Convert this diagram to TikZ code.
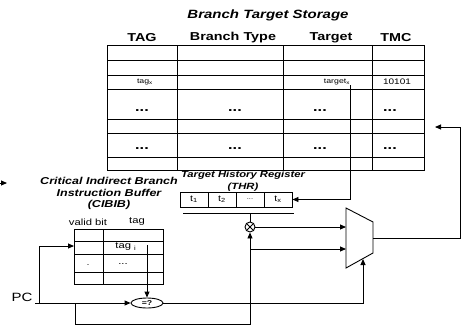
\documentclass[tikz,border=0pt]{standalone}
\usepackage{fontspec}
\setmainfont{Liberation Sans}
\usetikzlibrary{arrows.meta,shapes.geometric}
\newcommand{\wide}[1]{\scalebox{1.25}[1]{#1}}
\begin{document}
\begin{tikzpicture}[x=1pt,y=-1pt,line width=0.9pt,
  arr/.style={-{Triangle[length=6pt,width=5pt]}},
  txt/.style={inner sep=0pt},
  title/.style={txt,font=\bfseries\itshape\fontsize{12}{14}\selectfont},
  hdr/.style={txt,font=\bfseries\fontsize{11.5}{13}\selectfont},
  tiny/.style={txt,font=\fontsize{7}{8}\selectfont},
  mid/.style={txt,font=\fontsize{8}{9}\selectfont},
  lab/.style={txt,font=\fontsize{9}{10}\selectfont},
  dots/.style={txt,anchor=base,font=\bfseries\fontsize{13}{14}\selectfont},
  cell/.style={draw,minimum width=28pt,minimum height=15pt,inner sep=0pt,font=\fontsize{8.5}{9}\selectfont}]
\useasboundingbox (0,0) rectangle (467,327);

% Branch Target Storage table
\draw (107,45) rectangle (424,170);
\foreach \yy in {60,75,89,119,133,157} \draw (107,\yy) -- (424,\yy);
\foreach \xx in {177,283,372} \draw (\xx,45) -- (\xx,170);

\node[title] (bts) at (268,15) {\wide{Branch Target Storage}};
\node[hdr] (hTag) at (142,38) {\wide{TAG}};
\node[hdr] (hType) at (233,38) {\wide{Branch Type}};
\node[hdr] (hTarget) at (331,38) {\wide{Target}};
\node[hdr] (hTMC) at (396,38) {\wide{TMC}};

\node[tiny] (tagx) at (145,82) {\wide{tag\textsubscript{x}}};
\node[tiny] (targetx) at (337,82) {\wide{target\textsubscript{x}}};
\node[mid] (tmcv) at (397,82) {\wide{10101}};

\node[dots] (d11) at (142,111) {\wide{...}};
\node[dots] (d12) at (235,111) {\wide{...}};
\node[dots] (d13) at (320,111) {\wide{...}};
\node[dots] (d14) at (390,111) {\wide{...}};
\node[dots] (d21) at (142,149) {\wide{...}};
\node[dots] (d22) at (235,149) {\wide{...}};
\node[dots] (d23) at (320,149) {\wide{...}};
\node[dots] (d24) at (390,149) {\wide{...}};

% Target History Register
\node[txt,align=center,font=\bfseries\itshape\fontsize{9}{12}\selectfont] (thrt) at (243,181)
  {\wide{Target History Register}\\\wide{(THR)}};
\node[cell] (t1) at (194,199.5) {\wide{t\textsubscript{1}}};
\node[cell] (t2) at (222,199.5) {\wide{t\textsubscript{2}}};
\node[cell,font=\fontsize{6}{7}\selectfont] (t3) at (250,199.5) {\wide{...}};
\node[cell] (tx) at (278,199.5) {\wide{t\textsubscript{x}}};
\coordinate (ul1) at (183,213);
\coordinate (ul2) at (294,213);
\coordinate (ulm) at (250,213);
\draw (ul1) -- (ul2);

\node[circle,draw,minimum size=10pt,inner sep=0pt] (xo) at (250,227) {};
\draw (xo.north east) -- (xo.south west) (xo.north west) -- (xo.south east);
\draw (ulm) -- (xo.north);

% target connector
\coordinate (tgt) at (350,85);
\draw[arr] (tgt) |- (tx.east);

% Mux
\coordinate (m1) at (346,208);
\coordinate (m2) at (373,222);
\coordinate (m3) at (373,253);
\coordinate (m4) at (346,268);
\draw (m1) -- (m2) -- (m3) -- (m4) -- cycle;
\coordinate (mi1) at (346,227);
\coordinate (mi2) at (346,249);
\coordinate (msel) at (363,259);
\coordinate (mout) at (373,238);
\draw[arr] (xo.east) -- (mi1);
\coordinate (br) at (250,249);
\draw[arr] (br) -- (mi2);

% feedback
\coordinate (fb1) at (460,238);
\coordinate (fbt) at (460,127);
\coordinate (fbend) at (435,127);
\draw[arr] (mout) -- (fb1) -- (fbt) -- (fbend);

% CIBIB
\node[txt,align=center,font=\bfseries\itshape\fontsize{10}{11.5}\selectfont] (cibt) at (109,193.5)
  {\wide{Critical Indirect Branch}\\\wide{Instruction Buffer}\\\wide{(CIBIB)}};
\node[lab] (vb) at (88,222) {\wide{valid bit}};
\node[lab] (tg) at (137,222) {\wide{tag}};
\draw (74,229) rectangle (163,284);
\foreach \yy in {241,254,272} \draw (74,\yy) -- (163,\yy);
\draw (103,229) -- (103,284);
\node[lab] (tagi) at (126,247) {\wide{tag \textsubscript{i}}};
\node[lab] (vdot) at (88,265) {.};
\node[lab] (tdots) at (123,264) {\wide{...}};

% comparator
\node[ellipse,draw,minimum width=32pt,minimum height=10pt,inner sep=0pt,
  font=\bfseries\fontsize{7}{8}\selectfont] (eq) at (147,303) {\wide{=?}};
\coordinate (tagsrc) at (147,245);
\draw[arr] (tagsrc) -- (eq.north);

% PC
\node[txt,font=\fontsize{12}{14}\selectfont] (pc) at (22,297) {\wide{PC}};
\coordinate (pcs) at (35,303);
\coordinate (pcb1) at (39,303);
\coordinate (pcb2) at (75,303);
\coordinate (cibin) at (74,246);
\coordinate (botl) at (75,324);
\draw[arr] (pcs) -- (eq.west);
\draw[arr] (pcb1) |- (cibin);
\draw[arr] (pcb2) -- (botl) -| (xo.south);
\draw[arr] (eq.east) -| (msel);

% stray arrowhead at left edge
\coordinate (st0) at (0,183);
\coordinate (st1) at (7,183);
\draw[arr] (st0) -- (st1);
\end{tikzpicture}
\end{document}
